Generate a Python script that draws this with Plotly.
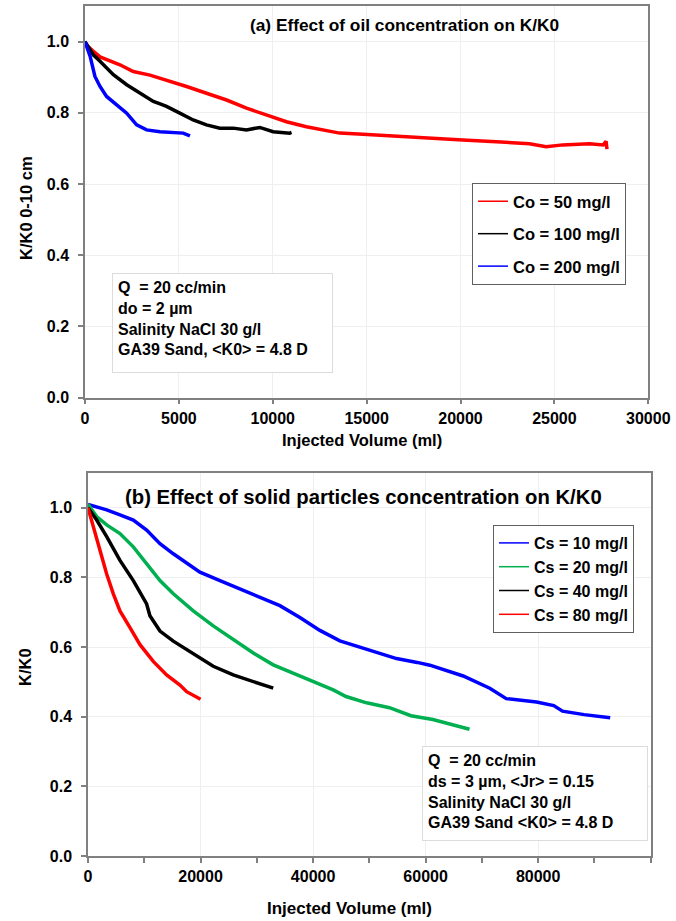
import plotly.graph_objects as go

W, H = 676, 921
FONT = "Liberation Sans, Arial, sans-serif"

# ---------------- (a) Effect of oil concentration ----------------
oil_names = ["Co = 50 mg/l", "Co = 100 mg/l", "Co = 200 mg/l"]
oil_colors = ["#ff0000", "#000000", "#0000ff"]

oil50_v = [0, 90, 400, 800, 1860, 2570, 3460, 4340, 5410, 6470, 7540, 8600, 9660,
           10730, 11790, 12860, 13560, 14800, 16580, 18350, 20120, 21900, 23670,
           24560, 25440, 26860, 27600, 27750, 27800]
oil50_k = [1.0, 0.99, 0.975, 0.957, 0.935, 0.916, 0.906, 0.892, 0.874, 0.855, 0.836,
           0.813, 0.794, 0.775, 0.761, 0.750, 0.743, 0.740, 0.734, 0.728, 0.724, 0.719,
           0.713, 0.705, 0.710, 0.713, 0.710, 0.720, 0.698]

oil100_v = [0, 440, 800, 1510, 2220, 2930, 3640, 4000, 4340, 5050, 5760, 6470, 7180,
            7890, 8600, 9310, 10020, 10900, 11000]
oil100_k = [1.0, 0.963, 0.945, 0.907, 0.879, 0.855, 0.832, 0.825, 0.818, 0.799, 0.780,
            0.766, 0.757, 0.757, 0.752, 0.759, 0.747, 0.743, 0.745]

oil200_v = [0, 270, 530, 800, 1150, 1690, 2220, 2750, 3280, 3990, 4700, 5230, 5590]
oil200_k = [1.0, 0.959, 0.902, 0.874, 0.846, 0.822, 0.799, 0.766, 0.752, 0.747, 0.745,
            0.743, 0.735]

# ---------------- (b) Effect of solid particles concentration ----------------
sol_names = ["Cs = 10 mg/l", "Cs = 20 mg/l", "Cs = 40 mg/l", "Cs = 80 mg/l"]
sol_colors = ["#0000ff", "#00b050", "#000000", "#ff0000"]

s10_v = [0, 1540, 3320, 5680, 8050, 10420, 12790, 15160, 17530, 19890, 23450, 27000,
         30550, 34100, 37660, 41210, 44760, 48900, 54830, 58500, 60750, 66670, 71400,
         74330, 79710, 82770, 84330, 88170, 92800]
s10_k = [1.01, 1.003, 0.994, 0.98, 0.965, 0.936, 0.897, 0.868, 0.84, 0.815, 0.791,
         0.767, 0.743, 0.719, 0.685, 0.648, 0.618, 0.596, 0.567, 0.556, 0.548, 0.517,
         0.482, 0.452, 0.442, 0.432, 0.416, 0.406, 0.397]

s20_v = [0, 1540, 3320, 5680, 8050, 10420, 12790, 15160, 18710, 22260, 25810, 29370,
         32920, 36470, 40020, 43580, 45850, 49500, 53570, 55500, 57400, 61270, 64500,
         67800]
s20_k = [1.01, 0.975, 0.951, 0.926, 0.888, 0.84, 0.791, 0.753, 0.704, 0.661, 0.622,
         0.583, 0.549, 0.525, 0.501, 0.477, 0.458, 0.44, 0.426, 0.415, 0.403, 0.392,
         0.378, 0.364]

s40_v = [0, 1540, 3320, 5680, 8050, 10420, 11000, 11600, 12790, 15160, 17530, 19890,
         22260, 25810, 29370, 32920]
s40_k = [1.0, 0.965, 0.917, 0.849, 0.791, 0.724, 0.69, 0.675, 0.646, 0.617, 0.593,
         0.569, 0.545, 0.52, 0.501, 0.482]

s80_v = [0, 950, 2130, 3320, 4500, 5680, 7460, 9240, 11600, 13970, 16340, 17530, 20000]
s80_k = [1.0, 0.946, 0.878, 0.81, 0.753, 0.704, 0.656, 0.607, 0.559, 0.52, 0.491,
         0.472, 0.45]

oil_series = [(oil50_v, oil50_k), (oil100_v, oil100_k), (oil200_v, oil200_k)]
sol_series = [(s10_v, s10_k), (s20_v, s20_k), (s40_v, s40_k), (s80_v, s80_k)]

note_a = "Q  = 20 cc/min<br>do = 2 µm<br>Salinity NaCl 30 g/l<br>GA39 Sand, &lt;K0&gt; = 4.8 D"
note_b = "Q  = 20 cc/min<br>ds = 3 µm, &lt;Jr&gt; = 0.15<br>Salinity NaCl 30 g/l<br>GA39 Sand &lt;K0&gt; = 4.8 D"

fig = go.Figure()

for (v, k), name, col in zip(oil_series, oil_names, oil_colors):
    fig.add_trace(go.Scatter(x=v, y=k, mode="lines", line=dict(color=col, width=3.5),
                             xaxis="x", yaxis="y", showlegend=False, hoverinfo="skip"))
for i, (name, col) in enumerate(zip(oil_names, oil_colors)):
    fig.add_trace(go.Scatter(x=[None], y=[None], mode="lines", line=dict(color=col, width=1.5),
                             name=name, xaxis="x", yaxis="y", legend="legend",
                             legendgroup="a%d" % i))

for (v, k), name, col in zip(sol_series, sol_names, sol_colors):
    fig.add_trace(go.Scatter(x=v, y=k, mode="lines", line=dict(color=col, width=3.5),
                             xaxis="x2", yaxis="y2", showlegend=False, hoverinfo="skip"))
for i, (name, col) in enumerate(zip(sol_names, sol_colors)):
    fig.add_trace(go.Scatter(x=[None], y=[None], mode="lines", line=dict(color=col, width=1.5),
                             name=name, xaxis="x2", yaxis="y2", legend="legend2",
                             legendgroup="b"))

tickfont = dict(family=FONT, size=16, color="black", weight="bold")
common = dict(showline=True, linecolor="#808080", linewidth=1.5, mirror=True,
              ticks="outside", ticklen=5, tickwidth=1.5, tickcolor="#808080",
              showgrid=True, gridcolor="#efefef", gridwidth=1, zeroline=False,
              tickfont=tickfont, automargin=False)

fig.update_layout(
    width=W, height=H,
    margin=dict(l=0, r=0, t=0, b=0),
    paper_bgcolor="white", plot_bgcolor="white",
    font=dict(family=FONT, color="black"),
    xaxis=dict(domain=[85 / W, 648.3 / W], range=[0, 30000], tick0=0, dtick=5000,
               tickformat="d", anchor="y", ticklabelstandoff=0, **common),
    yaxis=dict(domain=[1 - 397.7 / H, 1 - 6 / H], range=[0, 1.1], tick0=0, dtick=0.2,
               tickformat=".1f", anchor="x", ticklabelstandoff=6, **common),
    xaxis2=dict(domain=[88 / W, 650.7 / W], range=[0, 100000], tick0=0, dtick=20000,
                tickformat="d", anchor="y2", ticklabelstandoff=0,
                minor=dict(dtick=10000, ticks="outside", ticklen=5, tickwidth=1.5,
                           tickcolor="#808080", showgrid=False), **common),
    yaxis2=dict(domain=[1 - 856 / H, 1 - 473 / H], range=[0, 1.1], tick0=0, dtick=0.2,
                tickformat=".1f", anchor="x2", ticklabelstandoff=6, **common),
    legend=dict(x=472 / W, y=1 - 183 / H, xanchor="left", yanchor="top",
                bgcolor="white", bordercolor="#606060", borderwidth=1,
                font=dict(family=FONT, size=16.5, color="black", weight="bold"),
                tracegroupgap=8),
    legend2=dict(x=493 / W, y=1 - 525 / H, xanchor="left", yanchor="top",
                 bgcolor="white", bordercolor="#606060", borderwidth=1,
                 font=dict(family=FONT, size=16, color="black", weight="bold"),
                 tracegroupgap=0),
    showlegend=True,
)

bold = lambda s: dict(family=FONT, size=s, color="black", weight="bold")

annotations = [
    dict(text="(a) Effect of oil concentration on K/K0", x=404 / W, y=1 - 24.5 / H,
         xref="paper", yref="paper", xanchor="center", yanchor="middle",
         showarrow=False, font=bold(17.3)),
    dict(text="(b) Effect of solid particles concentration on K/K0", x=363 / W,
         y=1 - 497 / H, xref="paper", yref="paper", xanchor="center",
         yanchor="middle", showarrow=False, font=bold(20.3)),
    dict(text=note_a, x=112 / W, y=1 - 273 / H, xref="paper", yref="paper",
         xanchor="left", yanchor="top", align="left", valign="top", showarrow=False,
         font=bold(16), bgcolor="white", bordercolor="#dcdcdc", borderwidth=1,
         borderpad=5, width=209, height=88),
    dict(text=note_b, x=422 / W, y=1 - 746 / H, xref="paper", yref="paper",
         xanchor="left", yanchor="top", align="left", valign="top", showarrow=False,
         font=bold(16), bgcolor="white", bordercolor="#dcdcdc", borderwidth=1,
         borderpad=5, width=214, height=83),
    dict(text="Injected Volume (ml)", x=362 / W, y=1 - 440 / H, xref="paper",
         yref="paper", xanchor="center", yanchor="middle", showarrow=False,
         font=bold(16.5)),
    dict(text="Injected Volume (ml)", x=349 / W, y=1 - 908 / H, xref="paper",
         yref="paper", xanchor="center", yanchor="middle", showarrow=False,
         font=bold(17)),
    dict(text="K/K0 0-10 cm", x=26 / W, y=1 - 208 / H, xref="paper", yref="paper",
         xanchor="center", yanchor="middle", textangle=-90, showarrow=False,
         font=bold(16.5)),
    dict(text="K/K0", x=25 / W, y=1 - 667 / H, xref="paper", yref="paper",
         xanchor="center", yanchor="middle", textangle=-90, showarrow=False,
         font=bold(16.5)),
]
fig.update_layout(annotations=annotations)

fig.write_html("out.html")
